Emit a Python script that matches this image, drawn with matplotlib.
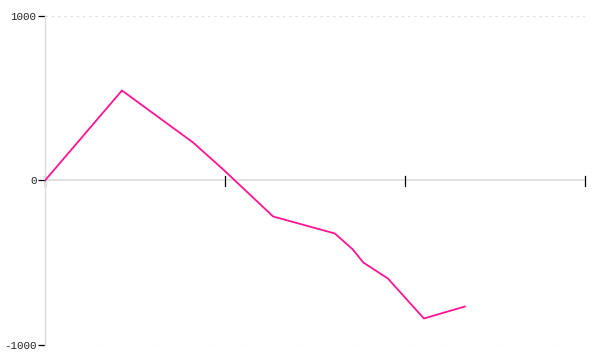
import matplotlib
matplotlib.use("Agg")
import matplotlib.pyplot as plt

# values
x = [0, 1.71, 3.29, 3.96, 5.07, 6.44, 6.84, 7.07, 7.62, 8.42, 9.33]
y = [0, 547, 231, 67, -219, -322, -419, -498, -596, -839, -766]
x_ticks = [0, 4, 8, 12]
y_ticks = [-1000, 0, 1000]

fig = plt.figure(figsize=(6, 3.6), dpi=100)
ax = fig.add_axes([0.075, 0.0417, 0.9, 0.9139])
ax.set_xlim(0, 12)
ax.set_ylim(-1000, 1000)

# dotted guides at the extremes, solid zero line
for v in (-1000, 1000):
    ax.axhline(v, color="#e0e0e0", lw=0.9, ls=(0, (2, 3)), zorder=0)
ax.axhline(0, color="#dcdcdc", lw=1.2, zorder=1)

ax.plot(x, y, color="#ff1493", lw=1.3, zorder=3)

for s in ("top", "right", "bottom"):
    ax.spines[s].set_visible(False)
ax.spines["left"].set_color("#dcdcdc")
ax.spines["left"].set_linewidth(1.0)

ax.set_yticks(y_ticks)
ax.set_yticklabels([str(v) for v in y_ticks])
ax.tick_params(axis="y", length=5, width=0.9, color="black", pad=1,
               labelsize=7.8, labelcolor="#222222")
for lab in ax.get_yticklabels():
    lab.set_family("Liberation Mono")

# x ticks sit on the zero line with no labels
ax.set_xticks([])
for t in x_ticks:
    ax.plot([t, t], [-35, 25], color="black", lw=0.9, zorder=2, clip_on=False)

fig.savefig("out.png", dpi=100)
